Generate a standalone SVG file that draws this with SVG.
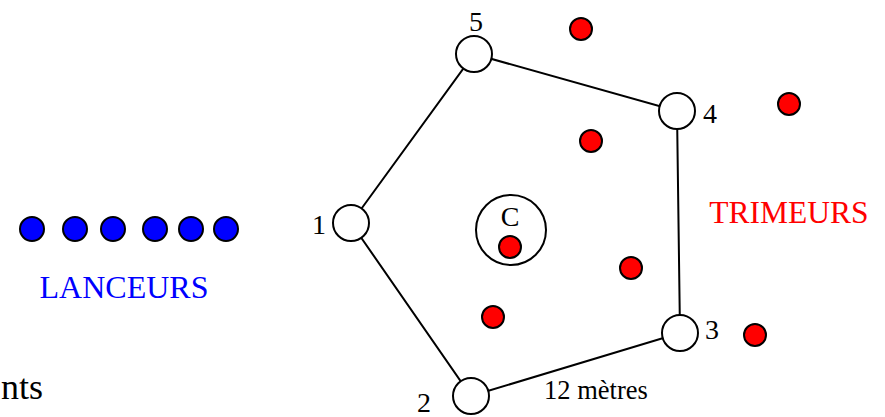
<svg xmlns="http://www.w3.org/2000/svg" width="885" height="417" viewBox="0 0 885 417">
<style>
text{font-family:"Liberation Serif","Times New Roman",serif;}
.node{fill:#fff;stroke:#000;stroke-width:2;}
.edge{stroke:#000;stroke-width:2;fill:none;}
.red{fill:#ff0000;stroke:#000;stroke-width:2;}
.blue{fill:#0000ff;stroke:#000;stroke-width:2;}
.num{font-size:28px;fill:#000;}
</style>
<rect width="885" height="417" fill="#fff"/>
<g id="connectors">
<polyline class="edge" points="351,223 474,54 677,111 680,333 471,396 351,223"/>
</g>
<g id="n1"><circle class="node" cx="351" cy="223" r="18"/><text class="num" x="319" y="234" text-anchor="middle">1</text></g>
<g id="n2"><circle class="node" cx="471" cy="396" r="18"/><text class="num" x="424" y="412" text-anchor="middle">2</text></g>
<g id="n3"><circle class="node" cx="680" cy="333" r="18"/><text class="num" x="712" y="339" text-anchor="middle">3</text></g>
<g id="n4"><circle class="node" cx="677" cy="111" r="18"/><text class="num" x="710" y="123" text-anchor="middle">4</text></g>
<g id="n5"><circle class="node" cx="474" cy="54" r="18"/><text class="num" x="476" y="31" text-anchor="middle">5</text></g>
<g id="center"><circle class="node" cx="511" cy="230" r="35"/><text class="num" x="510" y="226" text-anchor="middle">C</text><circle class="red" cx="510" cy="247" r="11"/></g>
<g id="trimeurs">
<circle class="red" cx="581" cy="29" r="11"/>
<circle class="red" cx="591" cy="141" r="11"/>
<circle class="red" cx="789" cy="104" r="11"/>
<circle class="red" cx="631" cy="268" r="11"/>
<circle class="red" cx="493" cy="317" r="11"/>
<circle class="red" cx="755" cy="335" r="11"/>
<text x="789" y="223" text-anchor="middle" font-size="31.5" fill="#ff0000">TRIMEURS</text>
</g>
<g id="lanceurs">
<circle class="blue" cx="32" cy="229" r="12"/>
<circle class="blue" cx="75" cy="229" r="12"/>
<circle class="blue" cx="113" cy="229" r="12"/>
<circle class="blue" cx="155" cy="229" r="12"/>
<circle class="blue" cx="191" cy="229" r="12"/>
<circle class="blue" cx="226" cy="229" r="12"/>
<text x="124" y="298" text-anchor="middle" font-size="32" fill="#0000ff">LANCEURS</text>
</g>
<g id="label-12"><text x="596" y="399" text-anchor="middle" font-size="26.5" fill="#000">12 mètres</text></g>
<g id="label-nts"><text x="43" y="399" text-anchor="end" font-size="36" fill="#000">nts</text></g>
</svg>
